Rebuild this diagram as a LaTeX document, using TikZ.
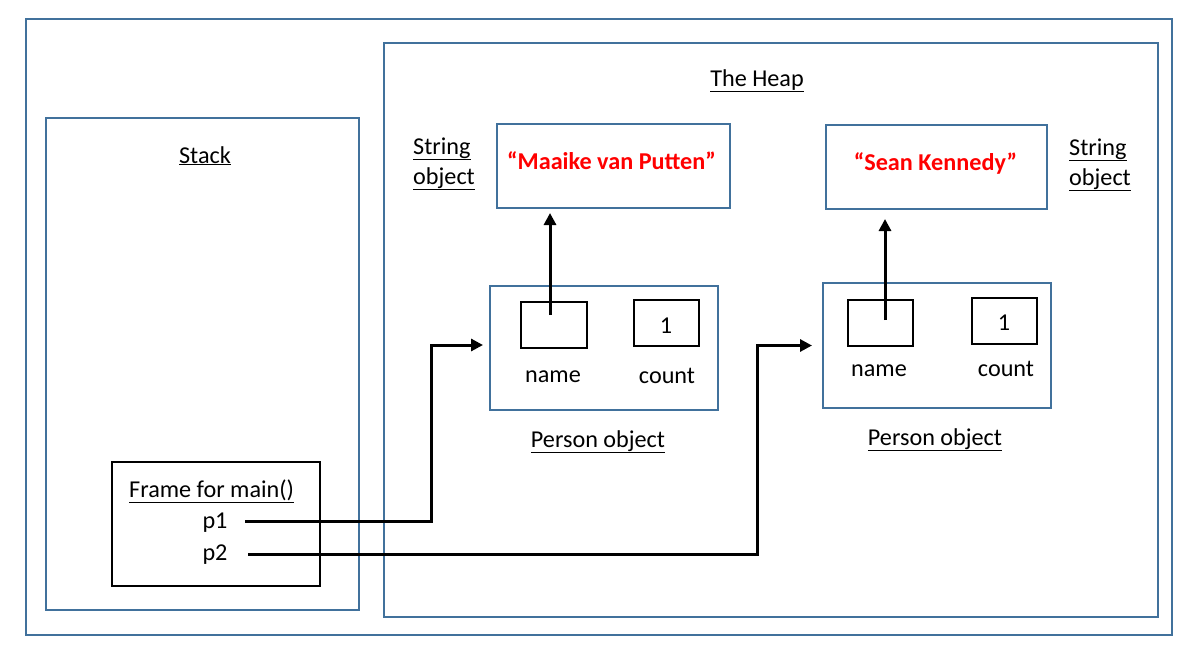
\documentclass[tikz,border=0pt]{standalone}
\usepackage{fontspec}
\setmainfont{Carlito}
\usetikzlibrary{arrows.meta}
\definecolor{boxblue}{HTML}{41719C}
\definecolor{strred}{HTML}{FF0000}

\begin{document}
\begin{tikzpicture}[x=1pt, y=-1pt,
    region/.style={draw=boxblue, line width=2pt, inner sep=0pt},
    cell/.style={draw=black, line width=2pt, inner sep=0pt},
    lbl/.style={font=\fontsize{24.2}{30}\selectfont, inner sep=0pt, anchor=base},
    strtext/.style={lbl, font=\fontsize{24.2}{30}\selectfont\bfseries, text=strred},
    ptr/.style={-{Triangle[length=12pt, width=12pt]}, line width=3pt}]
        \useasboundingbox (0,0) rectangle (1201,653);

        % Regions
        \node (memory) [region, minimum width=1146pt, minimum height=616pt] at (599,327) {};
        \node (heap) [region, minimum width=774pt, minimum height=574pt] at (771,330) {};
        \node (stack) [region, minimum width=313pt, minimum height=492pt] at (202.5,364) {};
        \node (heaplbl) [lbl] at (757,86) {\underline{The Heap}};
        \node (stacklbl) [lbl] at (205,163) {\underline{Stack}};

        % String objects
        \node (strA) [region, minimum width=233pt, minimum height=84pt] at (613.5,166) {};
        \node (strAtxt) [strtext] at (611.5,169) {“Maaike van Putten”};
        \node (strAlbl1) [lbl, anchor=base west] at (413,154) {\underline{String}};
        \node (strAlbl2) [lbl, anchor=base west] at (413,184) {\underline{object}};
        \node (strB) [region, minimum width=221pt, minimum height=84pt] at (936.5,167) {};
        \node (strBtxt) [strtext] at (935.5,170) {“Sean Kennedy”};
        \node (strBlbl1) [lbl, anchor=base west] at (1069,155) {\underline{String}};
        \node (strBlbl2) [lbl, anchor=base west] at (1069,185) {\underline{object}};

        % Person objects
        \node (personA) [region, minimum width=228pt, minimum height=124pt] at (604,348) {};
        \node (nameA) [cell, minimum width=66pt, minimum height=46pt] at (554,325) {};
        \node (countA) [cell, minimum width=65pt, minimum height=46pt] at (666.5,323) {};
        \node (countAval) [lbl] at (666,333) {1};
        \node (nameAlbl) [lbl] at (553,382) {name};
        \node (countAlbl) [lbl] at (667,383) {count};
        \node (personAlbl) [lbl] at (598,447) {\underline{Person object}};

        \node (personB) [region, minimum width=228pt, minimum height=125pt] at (937,345.5) {};
        \node (nameB) [cell, minimum width=65pt, minimum height=46pt] at (880.5,323) {};
        \node (countB) [cell, minimum width=65pt, minimum height=46pt] at (1004.5,321) {};
        \node (countBval) [lbl] at (1004,330) {1};
        \node (nameBlbl) [lbl] at (879,376) {name};
        \node (countBlbl) [lbl] at (1006,376) {count};
        \node (personBlbl) [lbl] at (935,445) {\underline{Person object}};

        % Stack frame
        \node (frame) [cell, minimum width=208pt, minimum height=124pt] at (216,524) {};
        \node (framelbl) [lbl, anchor=base west] at (129,497) {\underline{Frame for main()}};
        \node (p1) [lbl] at (215,528) {p1};
        \node (p2) [lbl] at (215,560) {p2};
        \coordinate (p1start) at (245,521);
        \coordinate (p2start) at (248,554);
        \coordinate (nameAref) at (550,315);
        \coordinate (nameBref) at (885,320);

        % Arrows
        \draw[ptr, shorten >=4pt] (nameAref) -- (nameAref |- strA.south);
        \draw[ptr, shorten >=9pt] (nameBref) -- (nameBref |- strB.south);
        \draw[ptr, shorten >=6pt] (p1start) -| ([xshift=-58pt, yshift=3pt]personA.west) -- ([yshift=3pt]personA.west);
        \draw[ptr, shorten >=10pt] (p2start) -| ([xshift=-65pt]personB.west) -- (personB.west);
    \end{tikzpicture}
\end{document}
